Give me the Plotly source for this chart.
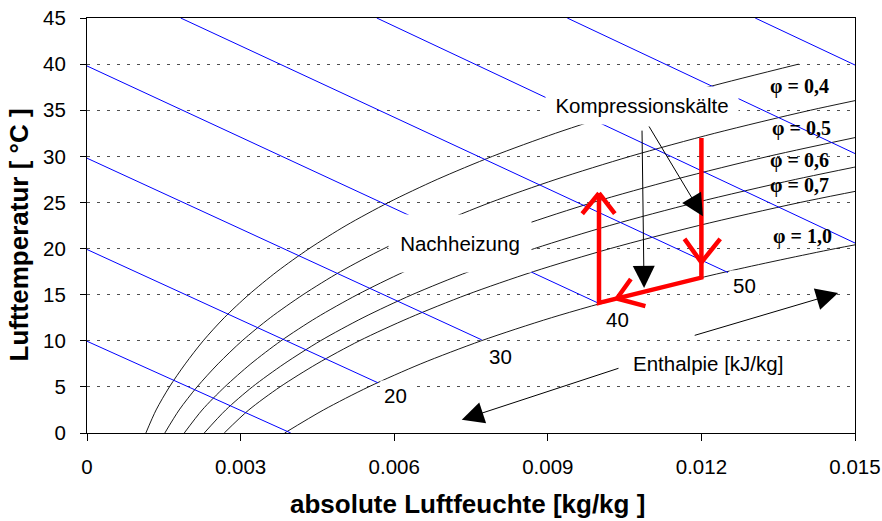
import plotly.graph_objects as go

# ---------------- data ----------------
T_grid = [0, 2.5, 5, 7.5, 10, 12.5, 15, 17.5, 20, 22.5, 25, 27.5, 30, 32.5, 35, 37.5, 40]

# absolute humidity [kg/kg] of the relative-humidity curves at the temperatures in T_grid
x_phi_03 = [0.00115, 0.00135, 0.00161, 0.00192, 0.00227, 0.00268, 0.00316, 0.00371, 0.00434,
            0.00506, 0.00589, 0.00684, 0.00792, 0.00915, 0.01054, 0.01212, 0.01390]
x_phi_04 = [0.00152, 0.00180, 0.00215, 0.00256, 0.00303, 0.00358, 0.00422, 0.00495, 0.00580,
            0.00677, 0.00788, 0.00916, 0.01061, 0.01226, 0.01413, 0.01627]
x_phi_05 = [0.00190, 0.00225, 0.00269, 0.00320, 0.00379, 0.00448, 0.00528, 0.00620, 0.00726,
            0.00849, 0.00988, 0.01149, 0.01331, 0.01540]
x_phi_06 = [0.00229, 0.00271, 0.00323, 0.00385, 0.00456, 0.00539, 0.00635, 0.00746, 0.00874,
            0.01021, 0.01190, 0.01384, 0.01604]
x_phi_07 = [0.00268, 0.00316, 0.00377, 0.00449, 0.00532, 0.00630, 0.00742, 0.00872, 0.01022,
            0.01195, 0.01393, 0.01621]
x_phi_10 = [0.00386, 0.00462, 0.00550, 0.00652, 0.00770, 0.00907, 0.01066, 0.01250, 0.01462,
            0.01710]

# enthalpy lines [kJ/kg]: start and end points
h_values = [10, 20, 30, 40, 50, 60, 70, 80]
h_x_start = [0.0, 0.0, 0.0, 0.0, 0.00183, 0.00566, 0.00938, 0.01305]
h_T_start = [9.95, 19.9, 29.8, 39.8, 45.0, 45.0, 45.0, 45.0]
h_x_end = [0.00398, 0.00568, 0.00771, 0.00998, 0.01252, 0.01500, 0.01500, 0.01500]
h_T_end = [0.0, 5.45, 10.1, 14.1, 17.4, 20.6, 30.3, 39.9]

# enthalpy labels
h_label_text = ["20", "30", "40", "50"]
h_label_x = [0.00602, 0.00807, 0.01037, 0.01285]
h_label_T = [4.04, 8.26, 12.27, 15.95]

# relative humidity labels
phi_label_text = ["φ = 0,4", "φ = 0,5", "φ = 0,6", "φ = 0,7", "φ = 1,0"]
phi_label_x = [0.01391, 0.01395, 0.01391, 0.01391, 0.01398]
phi_label_T = [37.6, 33.0, 29.54, 26.83, 21.31]

# air-treatment process (red)
proc_x = [0.0120, 0.0120, 0.0100, 0.0100]
proc_T = [32.0, 16.85, 14.1, 26.0]
# open arrow heads on the process path: tip positions
red_tip_x = [0.0120, 0.01035, 0.0100]
red_tip_T = [18.5, 14.58, 26.0]

# black explanation arrows (tail -> tip)
arr_tail_x = [0.01084, 0.01096, 0.01184, 0.01041]
arr_tail_T = [32.95, 33.4, 10.54, 7.07]
arr_tip_x = [0.01088, 0.01203, 0.01467, 0.00732]
arr_tip_T = [15.73, 23.5, 15.19, 1.44]

# free texts
txt_nach = ("Nachheizung", 0.007285, 20.6)
txt_komp = ("Kompressionskälte", 0.01083, 35.55)
txt_enth = ("Enthalpie [kJ/kg]", 0.01213, 7.56)

x_ticks = [0, 0.003, 0.006, 0.009, 0.012, 0.015]
x_tick_text = ["0", "0.003", "0.006", "0.009", "0.012", "0.015"]
y_ticks = [0, 5, 10, 15, 20, 25, 30, 35, 40, 45]

# ---------------- figure ----------------
SANS = "Liberation Sans, Arial, sans-serif"
SERIF = "Liberation Serif, Times New Roman, serif"

fig = go.Figure()

for xs in [x_phi_03, x_phi_04, x_phi_05, x_phi_06, x_phi_07, x_phi_10]:
    fig.add_trace(go.Scatter(x=xs, y=T_grid[:len(xs)], mode="lines",
                             line=dict(color="#000000", width=0.9, shape="spline", smoothing=0.8),
                             hoverinfo="skip", showlegend=False))

for i in range(len(h_values)):
    fig.add_trace(go.Scatter(x=[h_x_start[i], h_x_end[i]], y=[h_T_start[i], h_T_end[i]],
                             mode="lines", line=dict(color="#0000ff", width=1),
                             hoverinfo="skip", showlegend=False))

fig.add_trace(go.Scatter(x=proc_x, y=proc_T, mode="lines",
                         line=dict(color="#ff0000", width=4.5),
                         hoverinfo="skip", showlegend=False))

ann = []
# text boxes with white background (hide lines behind them)
ann.append(dict(x=txt_nach[1], y=txt_nach[2], text=txt_nach[0], showarrow=False,
                font=dict(family=SANS, size=20.5, color="black"), bgcolor="white",
                width=130, height=45, borderpad=6))
ann.append(dict(x=txt_komp[1], y=txt_komp[2], text=txt_komp[0], showarrow=False,
                font=dict(family=SANS, size=20.5, color="black"), bgcolor="white",
                width=180, height=25, borderpad=6))
ann.append(dict(x=txt_enth[1], y=txt_enth[2], text=txt_enth[0], showarrow=False,
                font=dict(family=SANS, size=20.5, color="black")))
for t, xv, yv in zip(h_label_text, h_label_x, h_label_T):
    ann.append(dict(x=xv, y=yv, text=t, showarrow=False,
                    font=dict(family=SANS, size=20.5, color="black"),
                    bgcolor="white", borderpad=3))
for t, xv, yv in zip(phi_label_text, phi_label_x, phi_label_T):
    ann.append(dict(x=xv, y=yv, text=t, showarrow=False,
                    font=dict(family=SERIF, size=20, color="black", weight="bold")))
# black arrows
for tx, ty, hx, hy in zip(arr_tail_x, arr_tail_T, arr_tip_x, arr_tip_T):
    ann.append(dict(x=hx, y=hy, ax=tx, ay=ty, axref="x", ayref="y", text="",
                    showarrow=True, arrowhead=2, arrowsize=4.4, arrowwidth=1,
                    arrowcolor="black", standoff=0, startstandoff=0))
# red open "V" arrow heads: two arms (pixel offsets from the tip)
red_arms = [[(-18, -25), (20, -25)],     # pointing down
            [(15, -21), (30, 8)],        # pointing left along the path
            [(-18, 22), (17, 22)]]       # pointing up
for i in range(3):
    for dx, dy in red_arms[i]:
        ann.append(dict(x=red_tip_x[i], y=red_tip_T[i], ax=dx, ay=dy, text="",
                        showarrow=True, arrowhead=0, arrowwidth=4.5,
                        arrowcolor="#ff0000", standoff=0, startstandoff=0))
# axis titles
ann.append(dict(xref="paper", yref="paper", x=0.4948, y=-0.170,
                text="absolute Luftfeuchte [kg/kg ]", showarrow=False,
                font=dict(family=SANS, size=26, color="black", weight="bold"),
                xanchor="center", yanchor="middle"))
ann.append(dict(xref="paper", yref="paper", x=-0.0885, y=0.476,
                text="Lufttemperatur [ °C ]", showarrow=False, textangle=-90,
                font=dict(family=SANS, size=26, color="black", weight="bold"),
                xanchor="center", yanchor="middle"))

fig.update_layout(
    width=882, height=521,
    margin=dict(l=87, r=27, t=18, b=88, autoexpand=False),
    paper_bgcolor="white", plot_bgcolor="white",
    showlegend=False,
    annotations=ann,
    xaxis=dict(range=[0, 0.015], tickvals=x_ticks, ticktext=x_tick_text,
               showgrid=False, zeroline=False, showline=True, linecolor="black",
               linewidth=1, mirror=True, ticks="outside", ticklen=7, tickcolor="black",
               tickfont=dict(family=SANS, size=20.5, color="black"),
               ticklabelstandoff=8, automargin=False),
    yaxis=dict(range=[0, 45], tickvals=y_ticks, showgrid=True, gridcolor="#505050",
               griddash="3px,7px", gridwidth=1, zeroline=False, showline=True,
               linecolor="black", linewidth=1, mirror=True, ticks="outside",
               ticklen=6, tickcolor="black",
               tickfont=dict(family=SANS, size=20.5, color="black"),
               ticklabelstandoff=10, automargin=False),
)

fig.write_html("out.html")
